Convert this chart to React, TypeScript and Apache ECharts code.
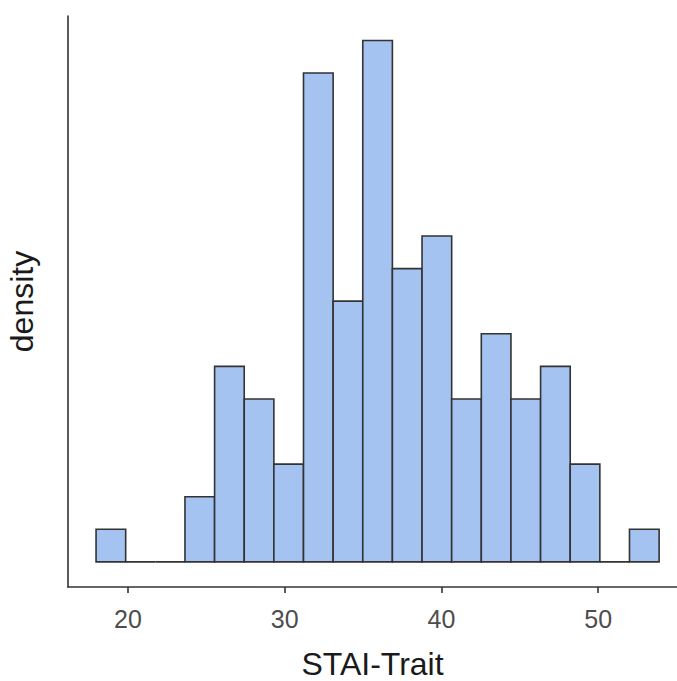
import React, { useEffect, useRef } from "react";
import * as echarts from "echarts";

const binStart = 17.96;
const binWidth = 1.891;
const counts = [1, 0, 0, 2, 6, 5, 3, 15, 8, 16, 9, 10, 5, 7, 5, 6, 3, 0, 1];
const xTicks = [20, 30, 40, 50];
const xTitle = "STAI-Trait";
const yTitle = "density";

export default function App() {
  const ref = useRef<HTMLDivElement>(null);
  useEffect(() => {
    if (!ref.current) return;
    const chart = echarts.init(ref.current, null, { renderer: "svg" });
    const n = counts.reduce((a, b) => a + b, 0);
    const data = counts.map((c, i) => [
      binStart + i * binWidth,
      binStart + (i + 1) * binWidth,
      c / (n * binWidth),
    ]);
    const unit = 1 / (n * binWidth);
    chart.setOption({
      animation: false,
      grid: { left: 68, right: 0, top: 16, bottom: 94, outerBoundsMode: "none", containLabel: false },
      xAxis: {
        type: "value",
        min: 16.17,
        max: 55.03,
        name: xTitle,
        nameLocation: "middle",
        nameGap: 61,
        nameTextStyle: { fontFamily: "Liberation Sans", fontSize: 32, color: "#1a1a1a" },
        axisLine: { show: true, onZero: false, lineStyle: { color: "#333333", width: 1.6 } },
        axisTick: { show: true, length: 6, customValues: xTicks, lineStyle: { color: "#333333", width: 1.6 } },
        axisLabel: { customValues: xTicks, fontFamily: "Liberation Sans", fontSize: 25, color: "#4d4d4d", margin: 19 },
        splitLine: { show: false },
      },
      yAxis: {
        type: "value",
        min: -0.77 * unit,
        max: 16.75 * unit,
        name: yTitle,
        nameLocation: "middle",
        nameRotate: 90,
        nameGap: 30,
        nameTextStyle: { fontFamily: "Liberation Sans", fontSize: 32, color: "#1a1a1a" },
        axisLine: { show: true, onZero: false, lineStyle: { color: "#333333", width: 1.6 } },
        axisTick: { show: false },
        axisLabel: { show: false },
        splitLine: { show: false },
      },
      series: [
        {
          type: "custom",
          data,
          encode: { x: [0, 1], y: 2 },
          renderItem: (params: any, api: any) => {
            const p0 = api.coord([api.value(0), 0]);
            const p1 = api.coord([api.value(1), api.value(2)]);
            return {
              type: "rect",
              shape: { x: p0[0], y: p1[1], width: p1[0] - p0[0], height: p0[1] - p1[1] },
              style: { fill: "#a4c3f1", stroke: "#333333", lineWidth: 1.6 },
            };
          },
        },
      ],
    });
    return () => chart.dispose();
  }, []);
  return (
    <div
      ref={ref}
      style={{ position: "absolute", left: 0, top: 0, width: 677, height: 681, background: "#ffffff" }}
    />
  );
}
